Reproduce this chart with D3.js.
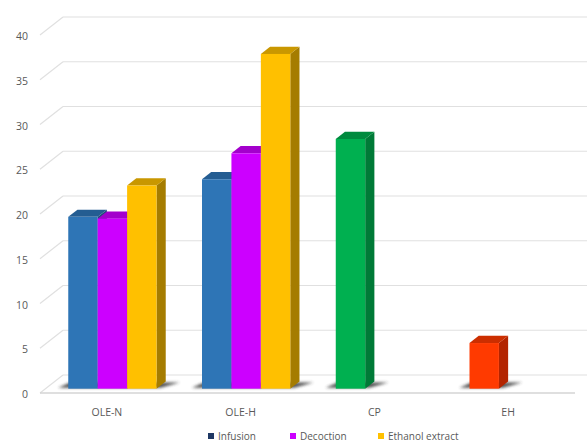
<!DOCTYPE html>
<html>
<head>
<meta charset="utf-8">
<script src="https://cdn.jsdelivr.net/npm/d3@7"></script>
<style>
  body { margin: 0; background: #fff; }
  svg { display: block; font-family: "Open Sans", sans-serif; }
</style>
</head>
<body>
<svg id="chart" width="587" height="441"></svg>
<script>
// data
var categories = ['OLE-N', 'OLE-H', 'CP', 'EH'];
var seriesNames = ['Infusion', 'Decoction', 'Ethanol extract'];
var infusion = [19.2, 23.4, 27.9, 5.1];
var decoction = [19.0, 26.3, null, null];
var ethanol = [22.7, 37.4, null, null];
var yTicks = [0, 5, 10, 15, 20, 25, 30, 35, 40];

// colours: [front, top, side]
var seriesColors = [
  ['#2e75b6', '#245d92', '#1f4e79'],
  ['#cc00ff', '#a300cc', '#8a00ad'],
  ['#ffc000', '#c99700', '#a57c00']
];
// the lone CP and EH bars get their own colours
var pointColors = {
  'CP': ['#00b050', '#008a3e', '#007a37'],
  'EH': ['#ff3a00', '#cc2e00', '#b32400']
};
var legendColors = ['#1f3864', '#cc00ff', '#ffc000'];

var width = 587, height = 441;
var svg = d3.select('#chart');

// 3d depth of the floor / walls
var depthX = 23, depthY = -18;
// bar front/back position inside that depth (fraction)
var barF0 = 0.24, barF1 = 0.64;

var x0 = d3.scaleBand().domain(categories).range([40, 575]).paddingInner(0.34).paddingOuter(0.17);
var x1 = d3.scaleBand().domain(seriesNames).range([0, x0.bandwidth()]);
var y = d3.scaleLinear().domain([0, 40]).range([393, 35]);

var defs = svg.append('defs');
defs.append('filter').attr('id', 'blur')
  .attr('x', '-50%').attr('y', '-200%').attr('width', '200%').attr('height', '500%')
  .append('feGaussianBlur').attr('stdDeviation', 1.6);

var grid = svg.append('g');
// back wall gridlines + side wall diagonals
yTicks.forEach(function(t) {
  var yf = y(t);
  grid.append('line')
    .attr('x1', 40 + depthX).attr('x2', 600)
    .attr('y1', yf + depthY).attr('y2', yf + depthY)
    .attr('stroke', '#e0e0e0').attr('stroke-width', 1.2);
  grid.append('line')
    .attr('x1', 40).attr('x2', 40 + depthX)
    .attr('y1', yf).attr('y2', yf + depthY)
    .attr('stroke', '#e0e0e0').attr('stroke-width', 1.2);
});
// front edge of floor
grid.append('line')
  .attr('x1', 40).attr('x2', 575)
  .attr('y1', y(0)).attr('y2', y(0))
  .attr('stroke', '#d4d4d4').attr('stroke-width', 1.4);

// tick labels
svg.append('g').selectAll('text')
  .data(yTicks).enter().append('text')
  .attr('x', 28).attr('y', function(d) { return y(d) + 1.5; })
  .attr('dy', '0.35em')
  .attr('text-anchor', 'end')
  .attr('font-size', '10.5px')
  .attr('fill', '#595959')
  .text(function(d) { return d; });

// category labels
svg.append('g').selectAll('text')
  .data(categories).enter().append('text')
  .attr('x', function(d) { return x0(d) + x0.bandwidth() / 2; })
  .attr('y', 416)
  .attr('text-anchor', 'middle')
  .attr('font-size', '10.5px')
  .attr('fill', '#595959')
  .text(function(d) { return d; });

// collect bars
var allSeries = [infusion, decoction, ethanol];
var bars = [];
categories.forEach(function(c, ci) {
  allSeries.forEach(function(vals, si) {
    var v = vals[ci];
    if (v == null) return;
    var col = (si === 0 && pointColors[c]) ? pointColors[c] : seriesColors[si];
    bars.push({cat: c, series: seriesNames[si], value: v, color: col});
  });
});

var fx = barF0 * depthX, fy = barF0 * depthY;
var bx = (barF1 - barF0) * depthX, by = (barF1 - barF0) * depthY;

// floor shadows per category group
var shadowG = svg.append('g').attr('filter', 'url(#blur)').attr('opacity', 0.85);
categories.forEach(function(c) {
  var cb = bars.filter(function(b) { return b.cat === c; });
  var left = d3.min(cb, function(b) { return x0(b.cat) + x1(b.series); }) + fx;
  var right = d3.max(cb, function(b) { return x0(b.cat) + x1(b.series) + x1.bandwidth(); }) + fx;
  var yb = y(0) + fy;
  shadowG.append('path')
    .attr('d', 'M' + (left - 10) + ',' + (yb - 1) +
      'L' + (right + 4) + ',' + (yb - 1) +
      'L' + (right + bx + 14) + ',' + (yb + by + 1) +
      'L' + (left + 2) + ',' + (yb + by + 1) + 'Z')
    .attr('fill', '#333');
});

var barG = svg.append('g').selectAll('g')
  .data(bars).enter().append('g');

barG.each(function(b) {
  var g = d3.select(this);
  var xl = x0(b.cat) + x1(b.series) + fx;
  var xr = xl + x1.bandwidth();
  var yt = y(b.value) + fy;
  var yb = y(0) + fy;
  // side face
  g.append('path')
    .attr('d', 'M' + xr + ',' + yt + 'L' + (xr + bx) + ',' + (yt + by) +
      'L' + (xr + bx) + ',' + (yb + by) + 'L' + xr + ',' + yb + 'Z')
    .attr('fill', b.color[2]);
  // top face
  g.append('path')
    .attr('d', 'M' + xl + ',' + yt + 'L' + (xl + bx) + ',' + (yt + by) +
      'L' + (xr + bx) + ',' + (yt + by) + 'L' + xr + ',' + yt + 'Z')
    .attr('fill', b.color[1]);
  // front face
  g.append('rect')
    .attr('x', xl).attr('y', yt)
    .attr('width', x1.bandwidth()).attr('height', yb - yt)
    .attr('fill', b.color[0]);
});

// legend
var legendX = [208, 290, 378];
var legend = svg.append('g').selectAll('g')
  .data(seriesNames).enter().append('g')
  .attr('transform', function(d, i) { return 'translate(' + legendX[i] + ',433)'; });
legend.append('rect')
  .attr('width', 6).attr('height', 6)
  .attr('fill', function(d, i) { return legendColors[i]; });
legend.append('text')
  .attr('x', 10).attr('y', 6.5)
  .attr('font-size', '10px')
  .attr('fill', '#595959')
  .text(function(d) { return d; });
</script>
</body>
</html>
